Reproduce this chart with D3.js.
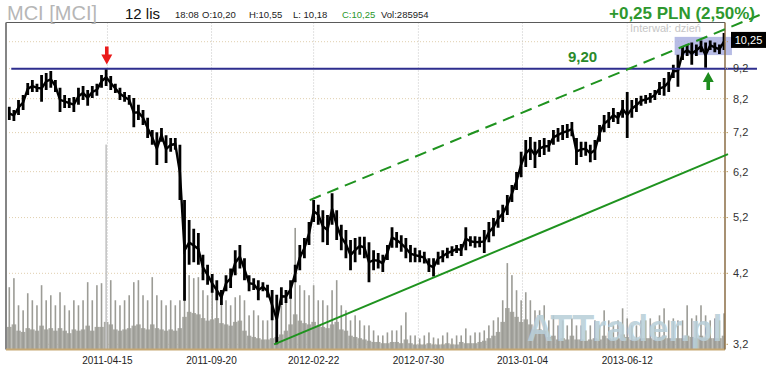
<!DOCTYPE html>
<html lang="pl">
<head>
<meta charset="UTF-8">
<title>MCI</title>
<script src="https://d3js.org/d3.v7.min.js"></script>
<style>
  body { margin: 0; background: #fff; }
  svg { display: block; font-family: "Liberation Sans", Arial, sans-serif; }
</style>
</head>
<body>
<script>
// weekly bars, first week starts 2010-11-15
const firstWeek = "2010-11-15";
const weekHigh = [
  7.95,7.85,8.16,8.32,8.71,8.81,8.68,8.98,9.05,9.12,
  8.81,8.55,8.32,8.22,8.25,8.55,8.61,8.48,8.61,8.68,
  8.98,9.20,8.94,8.68,8.55,8.41,8.32,8.22,8.01,7.85,
  7.62,7.27,7.21,7.33,7.13,7.05,7.05,6.87,5.56,5.15,
  4.98,4.90,4.51,4.34,4.19,4.09,3.94,4.17,4.28,4.59,
  4.68,4.45,4.17,4.12,4.09,4.06,4.02,3.94,3.87,3.98,
  3.94,4.09,4.34,4.68,4.81,5.11,5.56,5.46,5.35,5.25,
  5.71,5.35,5.06,4.96,4.77,4.81,4.83,4.83,4.73,4.59,
  4.54,4.51,4.68,5.01,4.92,4.86,4.81,4.68,4.63,4.59,
  4.56,4.45,4.45,4.56,4.59,4.63,4.66,4.68,4.70,5.01,
  4.84,4.84,4.83,4.96,5.11,5.19,5.35,5.46,5.67,5.89,
  6.19,6.69,7.00,7.08,6.95,7.00,7.05,7.00,7.27,7.33,
  7.41,7.44,7.50,7.05,6.95,6.95,6.87,7.00,7.41,7.70,
  7.79,7.91,7.79,8.16,8.41,8.16,8.22,8.29,8.32,8.38,
  8.48,8.74,8.88,9.08,9.34,9.70,10.02,10.09,10.17,10.09,
  10.25,10.17,10.25,10.17,10.09,10.55
];
const weekLow = [
  7.56,7.53,7.70,7.85,8.32,8.41,8.41,8.10,8.48,8.55,
  8.41,7.79,7.91,7.91,7.79,8.01,8.16,7.98,8.22,8.29,
  8.55,8.61,8.48,8.38,8.16,8.10,8.01,7.35,7.56,7.41,
  7.05,6.87,6.36,6.95,6.41,6.69,6.74,5.56,3.78,4.34,
  4.38,4.34,4.09,4.02,3.90,3.79,3.72,3.92,3.97,4.17,
  4.28,4.09,3.92,3.94,3.79,3.92,3.83,3.51,3.20,3.72,
  3.75,3.81,4.06,4.25,4.45,4.68,5.11,5.06,4.73,4.68,
  5.06,4.77,4.59,4.45,4.25,4.38,4.51,4.45,4.06,4.25,
  4.28,4.22,4.42,4.63,4.63,4.56,4.45,4.38,4.38,4.38,
  4.36,4.22,4.15,4.34,4.38,4.45,4.49,4.54,4.49,4.59,
  4.66,4.63,4.64,4.54,4.73,4.84,5.00,5.11,5.25,5.52,
  5.78,6.07,6.31,6.48,6.29,6.56,6.61,6.69,6.87,6.95,
  7.00,7.05,7.10,6.36,6.56,6.59,6.43,6.48,6.95,7.21,
  7.33,7.50,7.44,7.62,7.05,7.62,7.79,7.98,8.04,8.07,
  8.16,8.32,8.29,8.41,8.88,8.58,9.51,9.66,9.34,9.66,
  9.80,9.23,9.88,9.80,9.73,9.88
];
// volume in thousands: biggest session of the week and a typical session
const volPeak = [
  496,568,352,312,448,392,352,512,392,432,
  352,456,352,312,392,352,392,536,392,512,
  528,1632,552,392,352,392,432,536,552,432,
  392,576,432,392,352,392,352,392,472,592,
  568,576,472,432,472,512,392,392,352,416,
  432,392,272,312,272,232,232,272,272,352,
  392,472,968,512,472,432,512,392,392,352,
  472,552,352,312,232,272,232,192,192,152,
  112,112,136,152,152,192,296,112,112,88,
  112,136,96,88,112,136,88,112,112,168,
  112,136,136,152,192,232,256,392,688,592,
  472,392,456,392,312,312,352,232,272,192,
  232,192,248,192,192,152,192,232,192,312,
  232,192,232,328,248,192,192,232,232,248,
  192,272,328,232,248,232,232,352,248,272,
  352,272,232,248,232,288
];
const volTypical = [
  180,200,150,140,170,160,150,190,160,170,
  150,170,150,130,160,150,160,190,150,180,
  180,220,200,160,150,160,170,190,200,170,
  160,200,170,160,150,160,150,170,260,300,
  290,280,250,230,240,250,210,200,190,220,
  230,150,110,100,90,80,80,90,100,120,
  150,200,280,230,210,200,220,190,180,170,
  200,220,160,150,110,100,90,80,70,60,
  60,50,50,60,60,50,80,50,40,40,
  40,50,40,40,40,50,40,40,60,50,
  50,50,60,70,90,110,140,220,330,300,
  260,220,240,200,160,160,150,100,110,80,
  90,80,110,80,80,70,80,90,80,110,
  90,80,90,120,100,80,80,90,90,90,
  80,100,110,90,90,90,90,110,100,90,
  110,90,90,90,90,110
];

const xTickDates = ["2011-04-15", "2011-09-20", "2012-02-22", "2012-07-30", "2013-01-04", "2013-06-12"];
const yTicks = [3.2, 4.2, 5.2, 6.2, 7.2, 8.2, 9.2, 10.2];

// annotations (date, price)
const resistance = { value: 9.20, from: "2010-11-20", to: "2013-12-26" };
const channelTop = [["2012-02-16", 5.56], ["2013-12-30", 11.30]];
const channelBottom = [["2011-12-24", 3.20], ["2013-11-12", 6.63]];
const rangeBox = { from: "2013-08-23", to: "2013-11-18", low: 9.69, high: 10.39 };
const redArrow = ["2011-04-14", 9.35];
const greenArrow = ["2013-10-13", 9.08];
const lastClose = 10.25;

const W = 770, H = 373;
const plot = { left: 6, right: 725, top: 22.5, bottom: 349.5 };
const parse = d3.utcParse("%Y-%m-%d");

const x = d3.scaleUtc()
  .domain([parse("2010-11-12"), parse("2013-11-12")])
  .range([6, 728]);
const y = d3.scaleLog()
  .domain([3.2, 10.2])
  .range([344.3, 41.7]);
const yVol = d3.scaleLinear()
  .domain([0, 1700])
  .range([plot.bottom, 136]);

const start = parse(firstWeek);
const weeks = weekHigh.map((h, i) => ({
  date: d3.utcDay.offset(start, 7 * i + 2),
  high: h,
  low: weekLow[i],
  vPeak: volPeak[i],
  vTyp: volTypical[i]
}));
const weekPx = x(d3.utcDay.offset(start, 7)) - x(start);
const fmt = v => String(v).replace(".", ",");

const svg = d3.select("body").append("svg")
  .attr("width", W)
  .attr("height", H);

svg.append("defs").append("clipPath").attr("id", "plotClip")
  .append("rect")
  .attr("x", plot.left).attr("y", plot.top)
  .attr("width", plot.right - plot.left).attr("height", plot.bottom - plot.top);

// grid
svg.append("g").selectAll("line")
  .data(yTicks)
  .join("line")
  .attr("x1", plot.left).attr("x2", plot.right + 4)
  .attr("y1", d => y(d)).attr("y2", d => y(d))
  .attr("stroke", "#e0cfae")
  .attr("stroke-dasharray", "1,2");

svg.append("g").selectAll("line")
  .data(xTickDates)
  .join("line")
  .attr("x1", d => x(parse(d))).attr("x2", d => x(parse(d)))
  .attr("y1", plot.top).attr("y2", plot.bottom)
  .attr("stroke", "#c4c4c4")
  .attr("stroke-dasharray", "1,2");

// volume
const volG = svg.append("g").attr("clip-path", "url(#plotClip)");
volG.selectAll(".vt")
  .data(weeks)
  .join("rect")
  .attr("class", "vt")
  .attr("x", d => x(d.date) - weekPx / 2)
  .attr("width", weekPx)
  .attr("y", d => yVol(d.vTyp))
  .attr("height", d => yVol(0) - yVol(d.vTyp))
  .attr("fill", "#aaaaa4");
volG.selectAll(".vp")
  .data(weeks)
  .join("rect")
  .attr("class", "vp")
  .attr("x", d => x(d.date) - 0.8)
  .attr("width", 1.6)
  .attr("y", d => yVol(d.vPeak))
  .attr("height", d => yVol(0) - yVol(d.vPeak))
  .attr("fill", d => d.vPeak > 1000 ? "#c4c4c4" : "#9c9c96");

// watermark
svg.append("text")
  .attr("x", 527).attr("y", 341)
  .attr("font-size", 36).attr("font-weight", "bold")
  .attr("fill", "#b9cfd9").attr("fill-opacity", 0.9)
  .text("ATTrader.pl");

// consolidation box
svg.append("rect")
  .attr("x", x(parse(rangeBox.from)))
  .attr("width", x(parse(rangeBox.to)) - x(parse(rangeBox.from)))
  .attr("y", y(rangeBox.high))
  .attr("height", y(rangeBox.low) - y(rangeBox.high))
  .attr("fill", "#aab0e0")
  .attr("fill-opacity", 0.85);

// price
const priceG = svg.append("g").attr("clip-path", "url(#plotClip)");
priceG.selectAll("line")
  .data(weeks)
  .join("line")
  .attr("x1", d => x(d.date)).attr("x2", d => x(d.date))
  .attr("y1", d => y(d.high)).attr("y2", d => y(d.low))
  .attr("stroke", "#000")
  .attr("stroke-width", 2.8);
priceG.append("path")
  .datum(weeks)
  .attr("fill", "none")
  .attr("stroke", "#000")
  .attr("stroke-width", 2.4)
  .attr("d", d3.line()
    .x(d => x(d.date))
    .y(d => y(Math.sqrt(d.high * d.low))));

// frame
svg.append("line").attr("x1", plot.left).attr("x2", plot.right)
  .attr("y1", plot.top).attr("y2", plot.top)
  .attr("stroke", "#5a5a5a").attr("stroke-width", 1.2);
svg.append("line").attr("x1", plot.left).attr("x2", plot.left)
  .attr("y1", plot.top).attr("y2", plot.bottom)
  .attr("stroke", "#858585").attr("stroke-width", 2);
svg.append("line").attr("x1", plot.left).attr("x2", plot.right)
  .attr("y1", plot.bottom).attr("y2", plot.bottom)
  .attr("stroke", "#c6a772").attr("stroke-width", 2);
svg.append("line").attr("x1", plot.right).attr("x2", plot.right)
  .attr("y1", plot.top).attr("y2", plot.bottom)
  .attr("stroke", "#8a6c44").attr("stroke-width", 1.5);

// resistance line 9,20
svg.append("line")
  .attr("x1", x(parse(resistance.from))).attr("x2", x(parse(resistance.to)))
  .attr("y1", y(resistance.value)).attr("y2", y(resistance.value))
  .attr("stroke", "#2e2e8e").attr("stroke-width", 2);
svg.append("text")
  .attr("x", 568).attr("y", y(resistance.value) - 7)
  .attr("font-size", 15).attr("font-weight", "bold")
  .attr("fill", "#2a8a2a")
  .text(fmt(resistance.value.toFixed(2)));

// channel
const chan = d3.line().x(d => x(parse(d[0]))).y(d => y(d[1]));
svg.append("path").attr("d", chan(channelTop))
  .attr("stroke", "#1f931f").attr("stroke-width", 2)
  .attr("stroke-dasharray", "12,7").attr("fill", "none");
svg.append("path").attr("d", chan(channelBottom))
  .attr("stroke", "#1f931f").attr("stroke-width", 2).attr("fill", "none");

// arrows
function arrow(pt, dir, color) {
  const ax = x(parse(pt[0])), ay = y(pt[1]);
  const s = dir; // -1 = pointing down, 1 = pointing up
  const p = d3.path();
  p.moveTo(ax, ay);
  p.lineTo(ax - 5.5, ay + s * 10);
  p.lineTo(ax - 1.8, ay + s * 10);
  p.lineTo(ax - 1.8, ay + s * 18);
  p.lineTo(ax + 1.8, ay + s * 18);
  p.lineTo(ax + 1.8, ay + s * 10);
  p.lineTo(ax + 5.5, ay + s * 10);
  p.closePath();
  svg.append("path").attr("d", p.toString()).attr("fill", color);
}
arrow(redArrow, -1, "#ea1a1a");
arrow(greenArrow, 1, "#1e8c1e");

// y axis labels (the top one sits under the last-price tag)
const tagY = y(lastClose);
svg.append("g").selectAll("text")
  .data(yTicks.filter(d => Math.abs(y(d) - tagY) > 10))
  .join("text")
  .attr("x", 733).attr("y", d => y(d))
  .attr("dy", "0.35em")
  .attr("font-size", 11)
  .attr("fill", "#333")
  .text(d => fmt(d));
svg.append("g").selectAll("line")
  .data(yTicks)
  .join("line")
  .attr("x1", plot.right).attr("x2", plot.right + 4)
  .attr("y1", d => y(d)).attr("y2", d => y(d))
  .attr("stroke", "#b89a66").attr("stroke-dasharray", "1,1");

// last price tag
svg.append("rect")
  .attr("x", 731).attr("y", tagY - 8.5)
  .attr("width", 35).attr("height", 16)
  .attr("fill", "#000");
svg.append("text")
  .attr("x", 748.5).attr("y", tagY)
  .attr("dy", "0.35em")
  .attr("text-anchor", "middle")
  .attr("font-size", 11).attr("fill", "#fff")
  .text(fmt(lastClose.toFixed(2)));

// x axis labels
svg.append("g").selectAll("text")
  .data(xTickDates)
  .join("text")
  .attr("x", d => x(parse(d))).attr("y", 364)
  .attr("text-anchor", "middle")
  .attr("font-size", 10)
  .attr("fill", "#222")
  .text(d => d);

// header
svg.append("text").attr("x", 7).attr("y", 19.5)
  .attr("font-size", 20).attr("fill", "#b6b6b6")
  .text("MCI [MCI]");
svg.append("text").attr("x", 125).attr("y", 18.5)
  .attr("font-size", 15).attr("fill", "#111")
  .text("12 lis");
const info = [
  { t: "18:08", x: 175, c: "#222" },
  { t: "O:10,20", x: 202, c: "#222" },
  { t: "H:10,55", x: 249, c: "#222" },
  { t: "L: 10,18", x: 293, c: "#222" },
  { t: "C:10,25", x: 342, c: "#2a962a" },
  { t: "Vol:285954", x: 381, c: "#222" }
];
svg.append("g").selectAll("text")
  .data(info)
  .join("text")
  .attr("x", d => d.x).attr("y", 18)
  .attr("font-size", 9.5)
  .attr("fill", d => d.c)
  .text(d => d.t);
svg.append("text").attr("x", 755).attr("y", 19)
  .attr("text-anchor", "end")
  .attr("font-size", 17).attr("font-weight", "bold")
  .attr("fill", "#2e982e")
  .text("+0,25 PLN (2,50%)");
svg.append("text").attr("x", 630).attr("y", 32)
  .attr("font-size", 11).attr("fill", "#c6c6c6")
  .text("Interwał: dzień");
</script>
</body>
</html>
